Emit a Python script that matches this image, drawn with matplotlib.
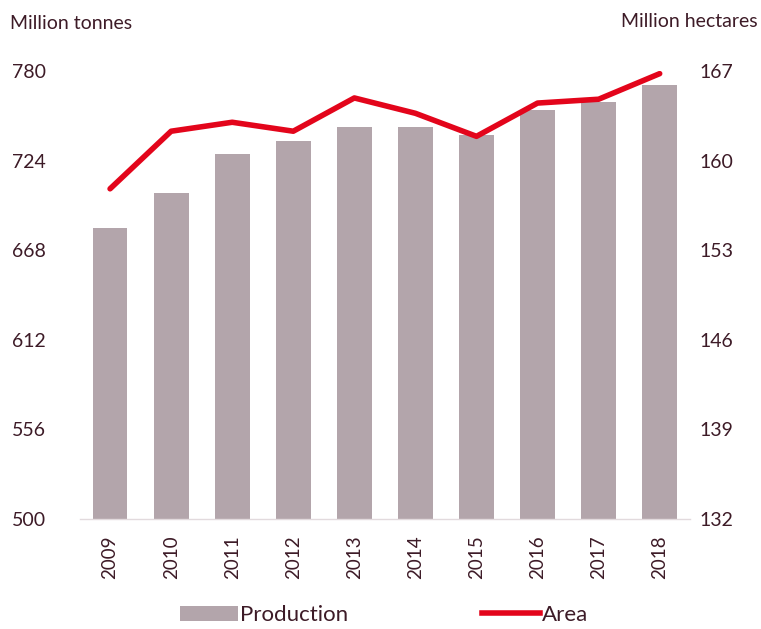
import matplotlib
matplotlib.use("Agg")
import matplotlib.pyplot as plt
from matplotlib.lines import Line2D
from matplotlib.patches import Patch

years = ["2009", "2010", "2011", "2012", "2013", "2014", "2015", "2016", "2017", "2018"]
production = [682, 703.5, 728, 736, 745, 745, 740, 755.5, 760.5, 771]   # million tonnes
area = [157.8, 162.3, 163.0, 162.3, 164.9, 163.7, 161.9, 164.5, 164.8, 166.8]  # million hectares
left_ticks = [500, 556, 612, 668, 724, 780]
right_ticks = [132, 139, 146, 153, 160, 167]

BAR = "#b3a5ab"
RED = "#e3051b"
TXT = "#3d1b27"

plt.rcParams["font.family"] = ["Lato", "DejaVu Sans"]

fig = plt.figure(figsize=(7.61, 6.29), dpi=100)
ax = fig.add_axes([0.1045, 0.175, 0.8025, 0.712])
x = range(len(years))
ax.bar(x, production, width=0.57, color=BAR, zorder=2)
ax.set_ylim(500, 780)
ax.set_xlim(-0.5, 9.5)
ax.set_yticks(left_ticks)
ax.set_xticks(list(x))
ax.set_xticklabels(years, rotation=90, fontsize=13.5, color=TXT)
ax.tick_params(axis="y", length=0, labelsize=14, labelcolor=TXT, pad=24)
ax.tick_params(axis="x", length=0, pad=12)
for s in ["top", "left", "right"]:
    ax.spines[s].set_visible(False)
ax.spines["bottom"].set_color("#e2dadd")
ax.spines["bottom"].set_linewidth(1)

ax2 = ax.twinx()
ax2.plot(x, area, color=RED, lw=4, zorder=3, solid_capstyle="round", solid_joinstyle="round")
ax2.set_ylim(132, 167)
ax2.set_yticks(right_ticks)
ax2.tick_params(axis="y", length=0, labelsize=14, labelcolor=TXT, pad=7)
for s in ["top", "left", "right", "bottom"]:
    ax2.spines[s].set_visible(False)

fig.text(0.013, 0.962, "Million tonnes", fontsize=14, color=TXT, ha="left", va="center")
fig.text(0.995, 0.966, "Million hectares", fontsize=14, color=TXT, ha="right", va="center")

handles = [Patch(facecolor=BAR, edgecolor="none"), Line2D([0], [0], color=RED, lw=4)]
fig.legend(handles, ["Production", "Area"], loc="center", bbox_to_anchor=(0.505, 0.022),
           ncol=2, frameon=False, fontsize=16, handlelength=2.6, handletextpad=0.1,
           columnspacing=6, labelcolor=TXT)

fig.savefig("out.png", dpi=100, facecolor="white")
